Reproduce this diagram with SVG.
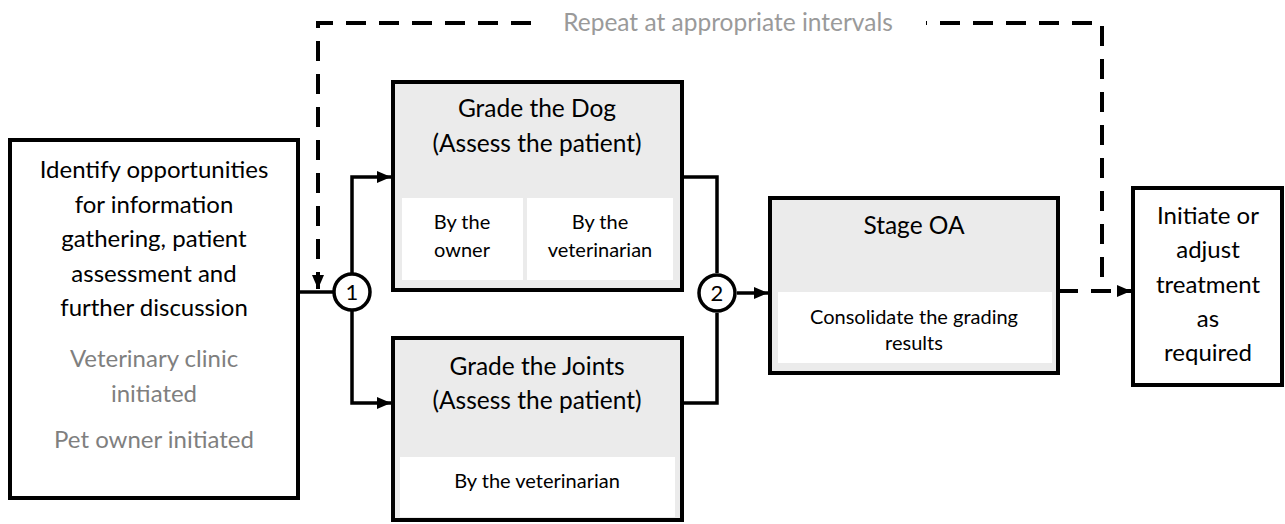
<svg xmlns="http://www.w3.org/2000/svg" width="1285" height="524" viewBox="0 0 1285 524">
<style>
.box{fill:#ffffff;stroke:#000;stroke-width:4}
.gbox{fill:#ebebeb;stroke:#000;stroke-width:4}
.pane{fill:#ffffff;stroke:none}
.t{font-family:Lato,"Liberation Sans",sans-serif;fill:#000;text-anchor:middle}
.big{font-size:24px}
.mid{font-size:24.5px}
.sm{font-size:20px}
.grey{fill:#7f7f7f}
.lgrey{fill:#9a9a9a}
.ln{fill:none;stroke:#000;stroke-width:3.5}
.dash{fill:none;stroke:#000;stroke-width:4;stroke-dasharray:20 13}
.circ{fill:#fff;stroke:#000;stroke-width:3.5}
</style>
<defs>
<marker id="arr" markerUnits="userSpaceOnUse" markerWidth="14" markerHeight="14" viewBox="0 0 14 14" refX="14" refY="7" orient="auto">
<path d="M0,1 L14,7 L0,13 Z" fill="#000"/>
</marker>
</defs>
<g id="connectors">
<line class="ln" x1="298" y1="292" x2="334" y2="292"/>
<path class="ln" d="M352,274 V177 H391" marker-end="url(#arr)"/>
<path class="ln" d="M352,310 V403 H391" marker-end="url(#arr)"/>
<path class="ln" d="M682,177 H717 V273"/>
<path class="ln" d="M682,403 H717 V313"/>
<path class="ln" d="M737,293 H768" marker-end="url(#arr)"/>
<path class="dash" d="M1058,291 H1131" marker-end="url(#arr)"/>
<path class="dash" d="M1102,277 V23 H318 V289" marker-end="url(#arr)"/>
<rect x="541" y="6" width="385" height="36" fill="#fff"/>
<text class="t lgrey" x="728" y="31" style="font-size:24.5px">Repeat at appropriate intervals</text>
</g>
<g id="n-start">
<rect class="box" x="10" y="140" width="288" height="358"/>
<text class="t big" x="154" y="178">Identify opportunities</text>
<text class="t big" x="154" y="212.5">for information</text>
<text class="t big" x="154" y="247">gathering, patient</text>
<text class="t big" x="154" y="281.5">assessment and</text>
<text class="t big" x="154" y="316">further discussion</text>
<text class="t big grey" x="154" y="367">Veterinary clinic</text>
<text class="t big grey" x="154" y="402">initiated</text>
<text class="t big grey" x="154" y="448">Pet owner initiated</text>
</g>
<g id="n-c1">
<circle class="circ" cx="352" cy="292" r="18"/>
<text class="t" x="352" y="300" style="font-size:22px">1</text>
</g>
<g id="n-dog">
<rect class="gbox" x="393" y="82" width="289" height="208"/>
<rect class="pane" x="402" y="198" width="121" height="82"/>
<rect class="pane" x="527" y="198" width="146" height="82"/>
<text class="t mid" x="537" y="117">Grade the Dog</text>
<text class="t mid" x="537" y="152">(Assess the patient)</text>
<text class="t sm" x="462" y="229">By the</text>
<text class="t sm" x="462" y="257">owner</text>
<text class="t sm" x="600" y="229">By the</text>
<text class="t sm" x="600" y="257">veterinarian</text>
</g>
<g id="n-joints">
<rect class="gbox" x="393" y="338" width="289" height="182"/>
<rect class="pane" x="400" y="457" width="275" height="60"/>
<text class="t mid" x="537" y="375">Grade the Joints</text>
<text class="t mid" x="537" y="409">(Assess the patient)</text>
<text class="t sm" x="537" y="488">By the veterinarian</text>
</g>
<g id="n-c2">
<circle class="circ" cx="717" cy="293" r="18"/>
<text class="t" x="717" y="301" style="font-size:22px">2</text>
</g>
<g id="n-stage">
<rect class="gbox" x="770" y="198" width="288" height="175"/>
<rect class="pane" x="778" y="292" width="274" height="71"/>
<text class="t mid" x="914" y="234">Stage OA</text>
<text class="t sm" x="914" y="324">Consolidate the grading</text>
<text class="t sm" x="914" y="350">results</text>
</g>
<g id="n-treat">
<rect class="box" x="1133" y="188" width="149" height="197"/>
<text class="t big" x="1208" y="224">Initiate or</text>
<text class="t big" x="1208" y="258">adjust</text>
<text class="t big" x="1208" y="293">treatment</text>
<text class="t big" x="1208" y="327">as</text>
<text class="t big" x="1208" y="361">required</text>
</g>
</svg>
